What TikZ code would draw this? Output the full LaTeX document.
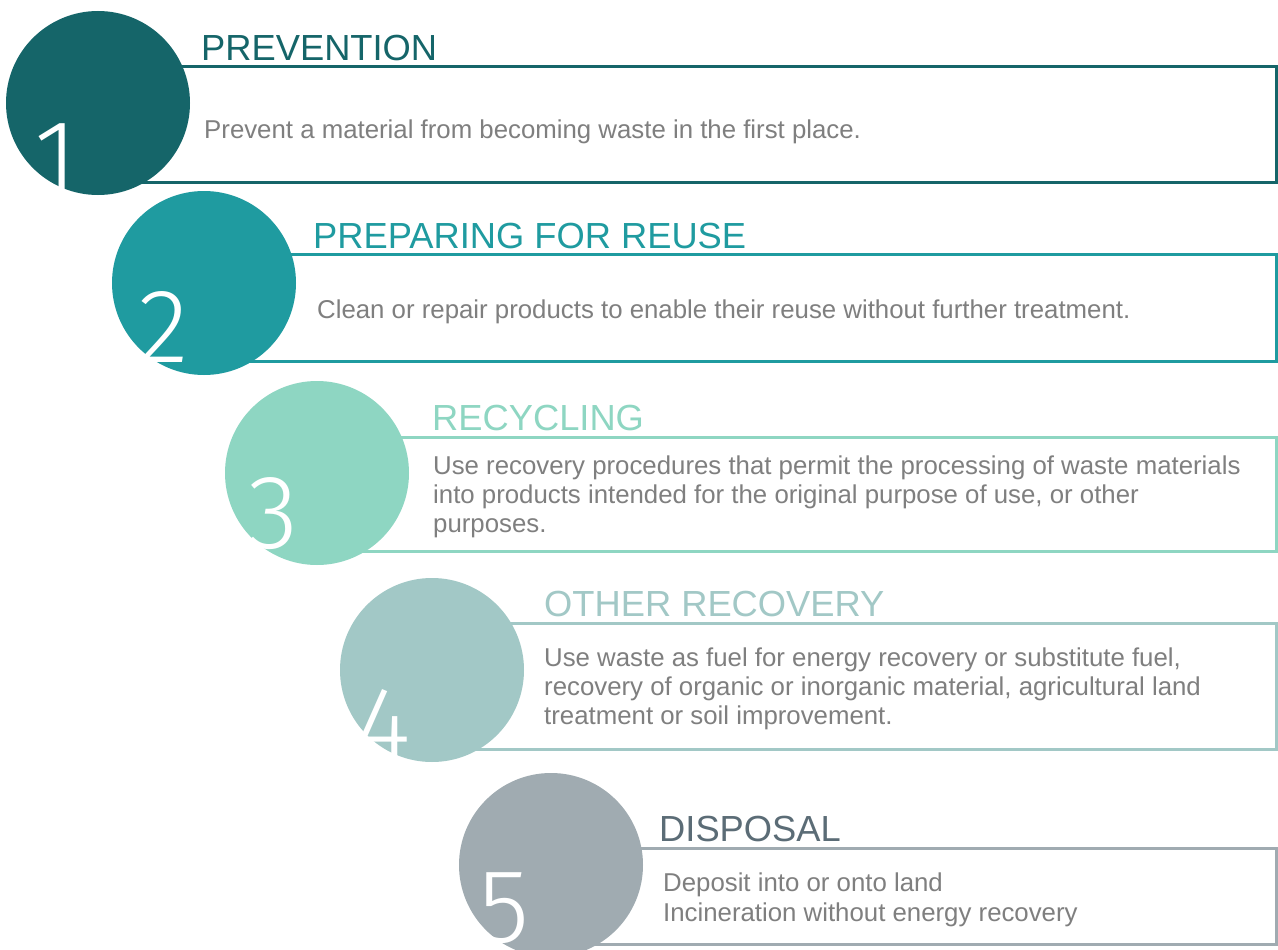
\documentclass[tikz,border=0pt]{standalone}
\usepackage{fontspec}
\setmainfont{Liberation Sans}
\newfontfamily\digitfont{Fira Sans Light}
\definecolor{cone}{HTML}{156569}
\definecolor{ctwo}{HTML}{1F9BA0}
\definecolor{cthree}{HTML}{8ED6C2}
\definecolor{cfour}{HTML}{A2C8C6}
\definecolor{cfive}{HTML}{A0ABB1}
\definecolor{tfive}{HTML}{5B6C76}
\definecolor{desc}{HTML}{7F7F7F}
\begin{document}
\begin{tikzpicture}[x=1pt,y=-1pt,
  disc/.style={circle, fill=#1, minimum size=184pt, inner sep=0pt},
  panel/.style={draw=#1, line width=3pt},
  title/.style={anchor=base west, inner sep=0pt, text=#1, font=\fontsize{36.3}{40}\selectfont},
  desctext/.style={anchor=base west, inner sep=0pt, text=desc, font=\fontsize{25.8}{29}\selectfont},
  digit/.style={anchor=base west, inner sep=0pt, text=white, font=\digitfont\fontsize{105}{110}\selectfont}]
\useasboundingbox (0,0) rectangle (1278,950);
\fill[white] (0,0) rectangle (1278,950);
% panels
\draw[panel=cone] (98,67) rectangle (1276,182);
\draw[panel=ctwo] (204,254) rectangle (1276,361);
\draw[panel=cthree] (317,437) rectangle (1276,551);
\draw[panel=cfour] (432,623) rectangle (1276,749);
\draw[panel=cfive] (551,848) rectangle (1276,944);
% circles
\node[disc=cone] (c1) at (98,103) {};
\node[disc=ctwo] (c2) at (204,283) {};
\node[disc=cthree] (c3) at (317,473) {};
\node[disc=cfour] (c4) at (432,670) {};
\node[disc=cfive] (c5) at (551,865) {};
% titles
\node[title=cone] (t1) at (201,61) {PREVENTION};
\node[title=ctwo] (t2) at (313,248) {PREPARING FOR REUSE};
\node[title=cthree] (t3) at (432,430) {RECYCLING};
\node[title=cfour] (t4) at (544,616) {OTHER RECOVERY};
\node[title=tfive] (t5) at (659,841) {DISPOSAL};
% descriptions
\node[desctext] (d1) at (204,138) {Prevent a material from becoming waste in the first place.};
\node[desctext] (d2) at (317,318) {Clean or repair products to enable their reuse without further treatment.};
\node[desctext] (d3a) at (433,474) {Use recovery procedures that permit the processing of waste materials};
\node[desctext] (d3b) at (433,503) {into products intended for the original purpose of use, or other};
\node[desctext] (d3c) at (433,532) {purposes.};
\node[desctext] (d4a) at (544,666) {Use waste as fuel for energy recovery or substitute fuel,};
\node[desctext] (d4b) at (544,695) {recovery of organic or inorganic material, agricultural land};
\node[desctext] (d4c) at (544,724) {treatment or soil improvement.};
\node[desctext] (d5a) at (663,891) {Deposit into or onto land};
\node[desctext] (d5b) at (663,921) {Incineration without energy recovery};
% digits
\node[digit] (n1) at (34,193) {1};
\node[digit] (n2) at (138,362) {2};
\node[digit] (n3) at (247,548) {3};
\node[digit] (n4) at (356,760) {4};
\node[digit] (n5) at (478,942) {5};
\end{tikzpicture}
\end{document}
